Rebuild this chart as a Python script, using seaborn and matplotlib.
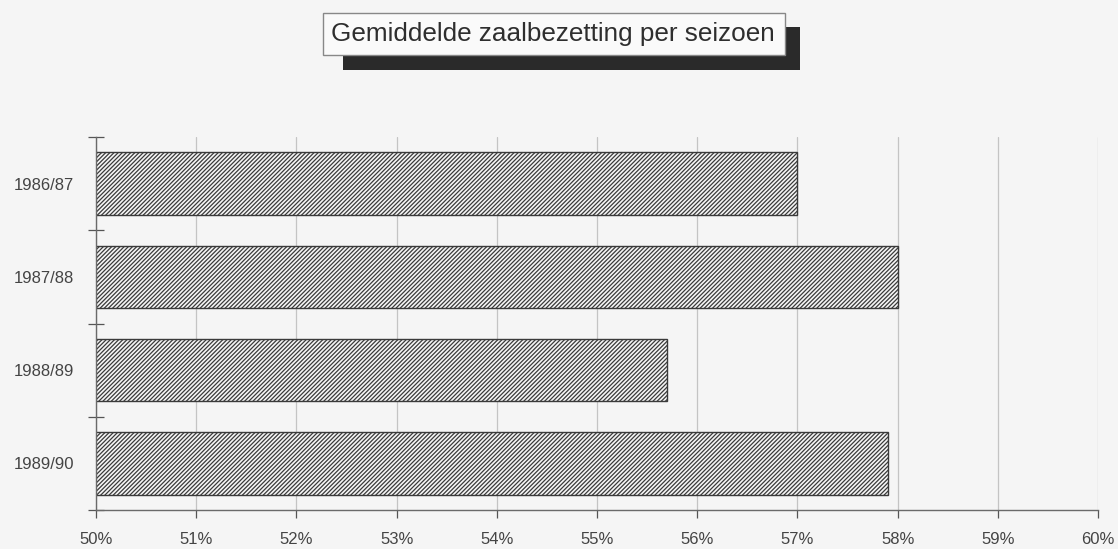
import matplotlib
matplotlib.use("Agg")
import matplotlib.pyplot as plt
import seaborn as sns
import numpy as np
from matplotlib.patches import Rectangle
from matplotlib.ticker import FixedLocator, FuncFormatter

# ── data ──────────────────────────────────────────────────────────────
seasons = ["1986/87", "1987/88", "1988/89", "1989/90"]
bezetting = [57.0, 58.0, 55.7, 57.9]   # gemiddelde zaalbezetting in %
x_ticks = [50, 51, 52, 53, 54, 55, 56, 57, 58, 59, 60]
title = "Gemiddelde zaalbezetting per seizoen"

# ── style ─────────────────────────────────────────────────────────────
sns.set_style("white")
plt.rcParams["font.family"] = ["Liberation Sans", "DejaVu Sans"]
plt.rcParams["hatch.linewidth"] = 0.9
bg = "#f5f5f5"

fig = plt.figure(figsize=(11.18, 5.49), dpi=100, facecolor=bg)
ax = fig.add_axes([96 / 1118, 1 - 510 / 549, (1098 - 96) / 1118, (510 - 137) / 549])
ax.set_facecolor(bg)

sns.barplot(x=bezetting, y=seasons, orient="h", ax=ax, color=bg,
            edgecolor="#3a3a3a", linewidth=1.0, hatch="////////", width=0.67)

ax.set_xlim(50, 60)
ax.set_ylim(3.5, -0.5)
ax.xaxis.set_major_locator(FixedLocator(x_ticks))
ax.xaxis.set_major_formatter(FuncFormatter(lambda v, p: f"{v:.0f}%"))
ax.grid(axis="x", color="#c4c4c4", linewidth=0.9)
ax.set_axisbelow(True)

for s in ["top", "right"]:
    ax.spines[s].set_visible(False)
for s in ["left", "bottom"]:
    ax.spines[s].set_color("#6a6a6a")
    ax.spines[s].set_linewidth(1.0)

ax.tick_params(axis="x", bottom=True, direction="out", length=5.5, width=0.9,
               color="#555555", pad=10, labelsize=12, labelcolor="#444444")
ax.tick_params(axis="y", which="major", left=False, length=0, pad=16,
               labelsize=12, labelcolor="#444444")
ax.set_yticks(np.arange(-0.5, 4.0, 1.0), minor=True)
ax.tick_params(axis="y", which="minor", left=True, direction="inout", length=12,
               width=0.9, color="#555555")
ax.set_xlabel("")
ax.set_ylabel("")

# ── boxed title with drop shadow ──────────────────────────────────────
W, H = 1118, 549
fig.patches.append(Rectangle((343 / W, 1 - 70 / H), (800 - 343) / W, (70 - 27) / H,
                             transform=fig.transFigure, facecolor="#2a2a2a",
                             edgecolor="none", zorder=1))
fig.patches.append(Rectangle((323 / W, 1 - 55 / H), (785 - 323) / W, (55 - 13) / H,
                             transform=fig.transFigure, facecolor="#fafafa",
                             edgecolor="#888888", linewidth=1.0, zorder=2))
fig.text(553 / W, 1 - 34 / H, title, ha="center", va="center", fontsize=18.8,
         color="#2e2e2e", zorder=3)

fig.savefig("out.png", dpi=100, facecolor=bg)
